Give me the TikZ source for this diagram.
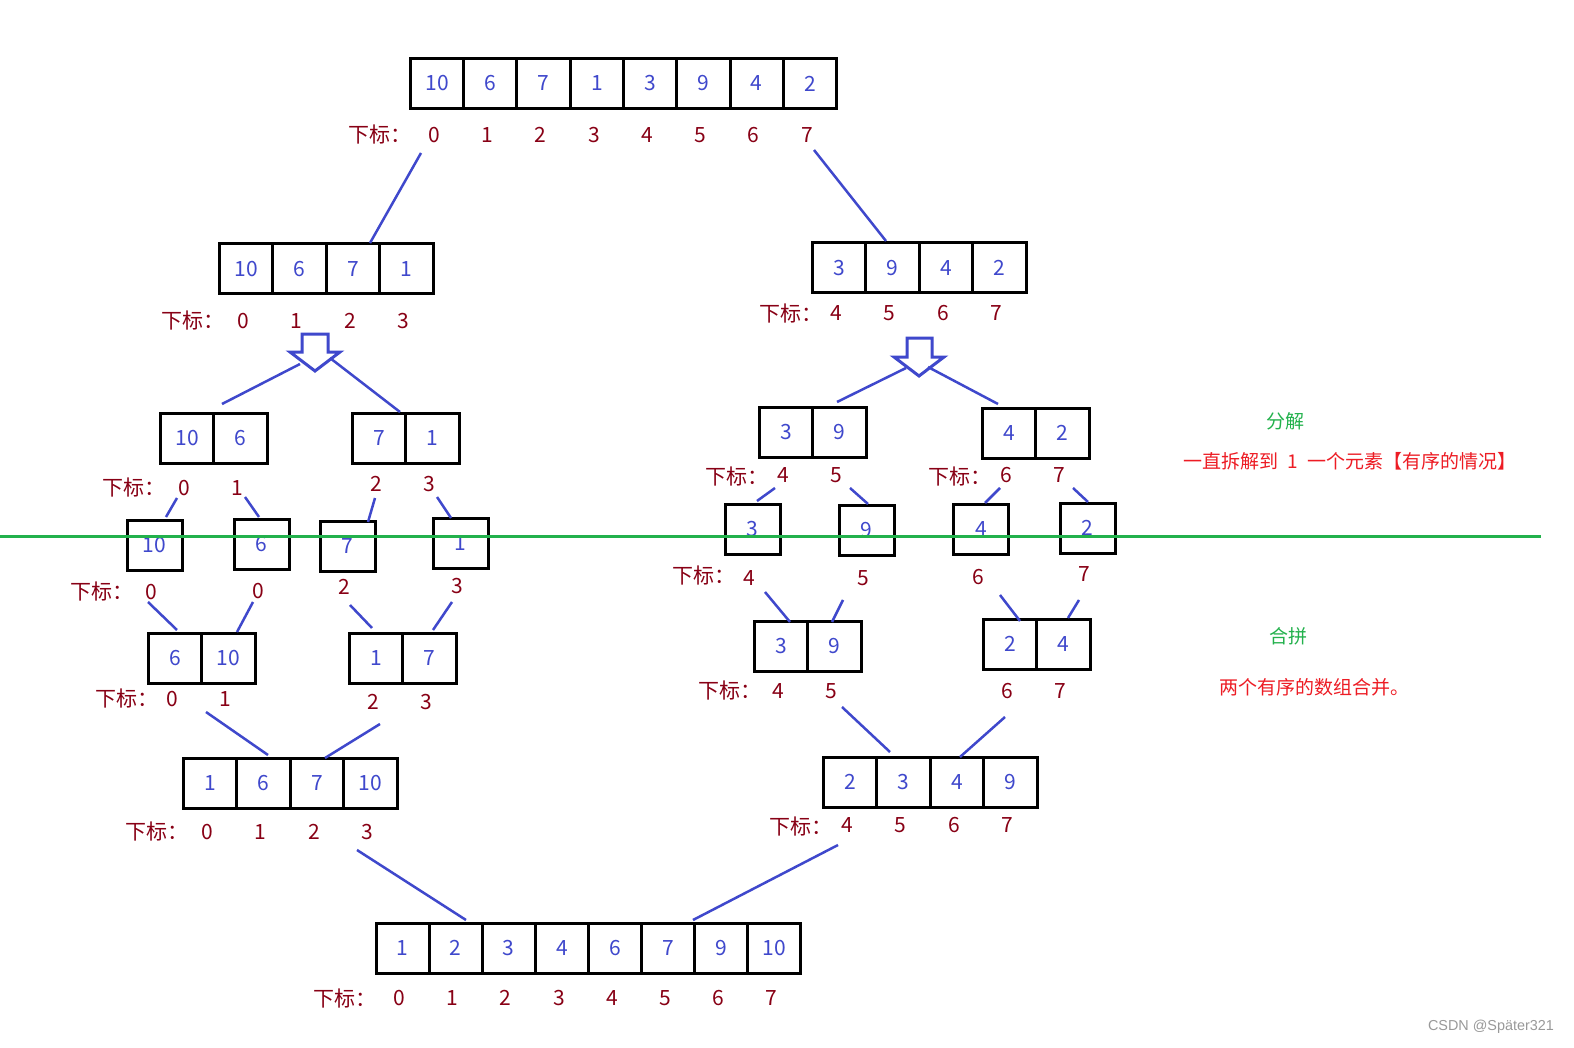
\documentclass[tikz,border=0pt]{standalone}
\usepackage{fontspec}
\setmainfont{Noto Sans CJK SC}
\newfontfamily\wmfont{Liberation Sans}
\usetikzlibrary{positioning}

\definecolor{paintblue}{RGB}{63,72,204}
\definecolor{paintred}{RGB}{136,0,21}
\definecolor{paintgreen}{RGB}{34,177,76}
\definecolor{notered}{RGB}{237,28,36}

\tikzset{
  cell/.style={draw=black, line width=1.5pt, minimum height=25pt, inner sep=0pt,
    text=paintblue, font=\fontsize{10.5}{12}\selectfont},
  idx/.style={text=paintred, inner sep=0pt, font=\fontsize{10.5}{12}\selectfont},
  link/.style={paintblue, line width=1.25pt},
  note/.style={inner sep=0pt, font=\fontsize{9.5}{11}\selectfont},
}

\begin{document}
\begin{tikzpicture}[x=0.5pt, y=-0.5pt]
\useasboundingbox[fill=white] (0,0) rectangle (1574,1048);

% arrays: name / first cell x / y / cell width / index y / value-index pairs
\foreach \nm/\x/\y/\w/\ly/\cells in {
    top/437/83.5/53.3/135/{10/0,6/1,7/2,1/3,3/4,9/5,4/6,2/7},
    la/246/269/53.5/321/{10/0,6/1,7/2,1/3},
    ra/839/268/53.5/313/{3/4,9/5,4/6,2/7},
    lb/187/438/53.5/488/{10/0,6/1},
    lc/379/438/53.5/484/{7/2,1/3},
    rb/786/432/53.5/475/{3/4,9/5},
    rc/1009/433/53.5/475/{4/6,2/7},
    sa/154.5/545.5/55/592/{10/0},
    sb/261.5/544/55/591/{6/0},
    sc/347.5/546.5/55/587/{7/2},
    sd/460.5/543/55/586/{1/3},
    se/752.5/529/55/578/{3/4},
    sf/866.5/530/55/578/{9/5},
    sg/981/529/55/577/{4/6},
    sh/1087.5/528/55/574/{2/7},
    ld/175/658/53.5/699/{6/0,10/1},
    le/376/658/53.5/702/{1/2,7/3},
    rd/781/646.5/53.5/691/{3/4,9/5},
    re/1010/644/53.5/691/{2/6,4/7},
    lf/210/783/53.5/832/{1/0,6/1,7/2,10/3},
    rf/850/782/53.5/825/{2/4,3/5,4/6,9/7},
    bot/402.6/948/53.1/998/{1/0,2/1,3/2,4/3,6/4,7/5,9/6,10/7}} {
  \foreach \v/\d [count=\i from 0] in \cells {
    \node[cell, minimum width=\w*0.5pt] (\nm-\i) at ({\x+\w*\i},\y) {\v};
    \node[idx] (\nm-i\i) at ({\x+\w*\i-3},\ly) {\d};
  }
}

% index captions
\foreach \nm/\x/\y in {top/380/135, la/193/321, ra/791/314, lb/134/488,
    rb/737/477, rc/960/477, sa/102/592, se/704/576, ld/127/699,
    rd/730/691, lf/157/832, rf/801/827, bot/345/998} {
  \node[idx] (\nm-cap) at (\x,\y) {下标：};
}

% hollow arrows
\draw[paintblue, line width=1.5pt] (302,334) -- (328,334) -- (328,352) -- (340,352)
  -- (315,371) -- (290,352) -- (302,352) -- cycle;
\draw[paintblue, line width=1.5pt] (907,338) -- (932,338) -- (932,357) -- (944,357)
  -- (919,376) -- (894,357) -- (907,357) -- cycle;

% connectors
\foreach \n/\ax/\ay/\bx/\by in {
    c1/421/153/370/243, c2/814/150/886/241,
    c3/300/364/222/404, c4/330/358/400/412, c5/906/368/837/402, c6/928/367/998/404,
    c7/177/498/166/517, c8/245/497/259/517, c9/375/498/368/522, c10/437/497/451/518,
    c11/775/488/757/501, c12/850/488/868/504, c13/1000/488/985/503, c14/1073/488/1088/502,
    c15/148/602/177/630, c16/253/602/237/632, c17/350/605/372/628, c18/452/602/433/630,
    c19/765/592/790/622, c20/843/600/832/622, c21/1000/595/1020/621, c22/1079/600/1068/618,
    c23/206/712/268/755, c24/380/724/325/758, c25/842/707/890/752, c26/1005/717/960/757,
    c27/357/850/466/920, c28/838/845/693/920} {
  \coordinate (\n a) at (\ax,\ay);
  \coordinate (\n b) at (\bx,\by);
  \draw[link] (\n a) -- (\n b);
}

% split / merge border
\draw[paintgreen, line width=1.5pt] (0,536) -- (1541,536);

\node[note, text=paintgreen] (split) at (1285,421) {分解};
\node[note, text=notered] (splitnote) at (1350,461)
  {一直拆解到\hspace{4.5pt}1\hspace{4.5pt}一个元素【有序的情况】};
\node[note, text=paintgreen] (merge) at (1288,636) {合拼};
\node[note, text=notered] (mergenote) at (1314,687) {两个有序的数组合并。};

\node[inner sep=0pt, text=black!40, font=\wmfont\fontsize{7.2}{8}\selectfont] (wm)
  at (1491,1027) {CSDN @Später321};
\end{tikzpicture}
\end{document}
